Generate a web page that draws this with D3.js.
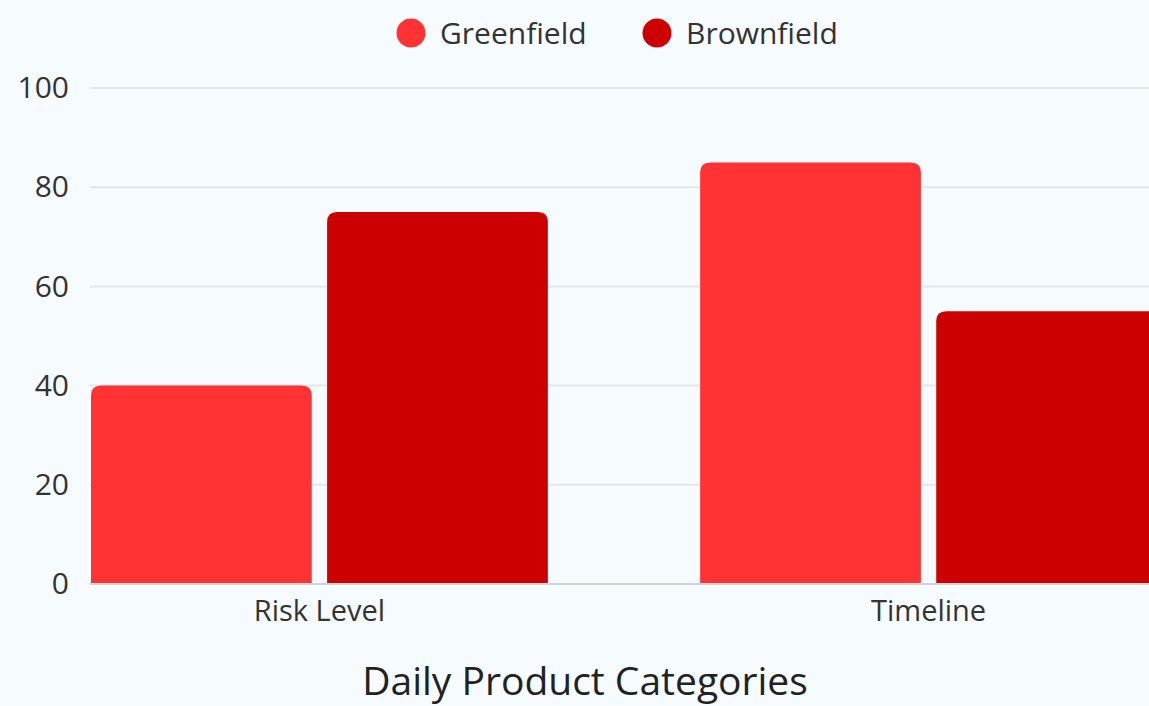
<!DOCTYPE html>
<html>
<head>
<meta charset="utf-8">
<script src="https://cdn.jsdelivr.net/npm/d3@7"></script>
<style>
  html, body { margin: 0; padding: 0; background: #f6fbff; overflow: hidden; }
  svg { display: block; font-family: "Open Sans", "Noto Sans", sans-serif; }
</style>
</head>
<body>
<svg id="chart" width="1149" height="706"></svg>
<script>
// Categories, series and values
const categories = ["Risk Level", "Timeline"];
const seriesNames = ["Greenfield", "Brownfield"];
const greenfield = [40, 85];
const brownfield = [75, 55];
const yTicks = [0, 20, 40, 60, 80, 100];
const colors = ["#ff3333", "#cc0000"];
const xTitle = "Daily Product Categories";

const seriesValues = [greenfield, brownfield];
const rows = categories.map((c, i) => ({
  category: c,
  values: seriesNames.map((s, j) => ({ series: s, value: seriesValues[j][i], color: colors[j] }))
}));

const svg = d3.select("#chart");
const W = 1149, H = 706;
const margin = { top: 88, left: 91, bottom: 122 };
const plotRight = 1157;
const plotBottom = H - margin.bottom; // 584

svg.append("rect").attr("width", W).attr("height", H).attr("fill", "#f6fbff");

const x0 = d3.scaleBand().domain(categories).range([margin.left, plotRight])
  .paddingInner(0.25).paddingOuter(0);
const x1 = d3.scaleBand().domain(seriesNames).range([0, x0.bandwidth()])
  .paddingInner(0.065).paddingOuter(0);
const y = d3.scaleLinear().domain([0, 100]).range([plotBottom, margin.top]);

// Horizontal grid
svg.append("g").selectAll("line").data(yTicks.filter(t => t > 0)).join("line")
  .attr("x1", margin.left - 1).attr("x2", W)
  .attr("y1", d => y(d)).attr("y2", d => y(d))
  .attr("stroke", "#e3e7eb").attr("stroke-width", 2);

// Y axis labels
const yAxis = svg.append("g").attr("transform", `translate(${margin.left - 22},0)`)
  .call(d3.axisLeft(y).tickValues(yTicks).tickSize(0).tickPadding(0));
yAxis.select(".domain").remove();
yAxis.selectAll("text").attr("font-size", 30).attr("fill", "#333")
  .attr("font-family", "'Open Sans', sans-serif");

// Bars with rounded top corners
function topRounded(xp, yp, w, h, r) {
  r = Math.min(r, w / 2, h);
  return `M${xp},${yp + h}V${yp + r}Q${xp},${yp} ${xp + r},${yp}H${xp + w - r}Q${xp + w},${yp} ${xp + w},${yp + r}V${yp + h}Z`;
}

const groups = svg.append("g").selectAll("g").data(rows).join("g")
  .attr("transform", d => `translate(${x0(d.category)},0)`);
groups.selectAll("path").data(d => d.values).join("path")
  .attr("d", d => topRounded(x1(d.series), y(d.value), x1.bandwidth(), plotBottom - y(d.value), 10))
  .attr("fill", d => d.color);

// Baseline
svg.append("line").attr("x1", margin.left - 1).attr("x2", W)
  .attr("y1", plotBottom).attr("y2", plotBottom)
  .attr("stroke", "#cfd3d7").attr("stroke-width", 2);

// X axis labels
const xAxis = svg.append("g").attr("transform", `translate(0,${plotBottom})`)
  .call(d3.axisBottom(x0).tickSize(0).tickPadding(16));
xAxis.select(".domain").remove();
xAxis.selectAll("text").attr("font-size", 29).attr("fill", "#333")
  .attr("font-family", "'Open Sans', sans-serif");

// X axis title
svg.append("text").attr("x", 585).attr("y", 695).attr("text-anchor", "middle")
  .attr("font-size", 39).attr("font-weight", 500).attr("fill", "#222").text(xTitle);

// Legend
const legendItems = [{ name: seriesNames[0], color: colors[0], cx: 411 }, { name: seriesNames[1], color: colors[1], cx: 657 }];
const legend = svg.append("g").selectAll("g").data(legendItems).join("g")
  .attr("transform", d => `translate(${d.cx},33)`);
legend.append("circle").attr("r", 14.5).attr("fill", d => d.color);
legend.append("text").attr("x", 29).attr("dy", "0.35em").attr("font-size", 30)
  .attr("fill", "#333").text(d => d.name);
</script>
</body>
</html>
